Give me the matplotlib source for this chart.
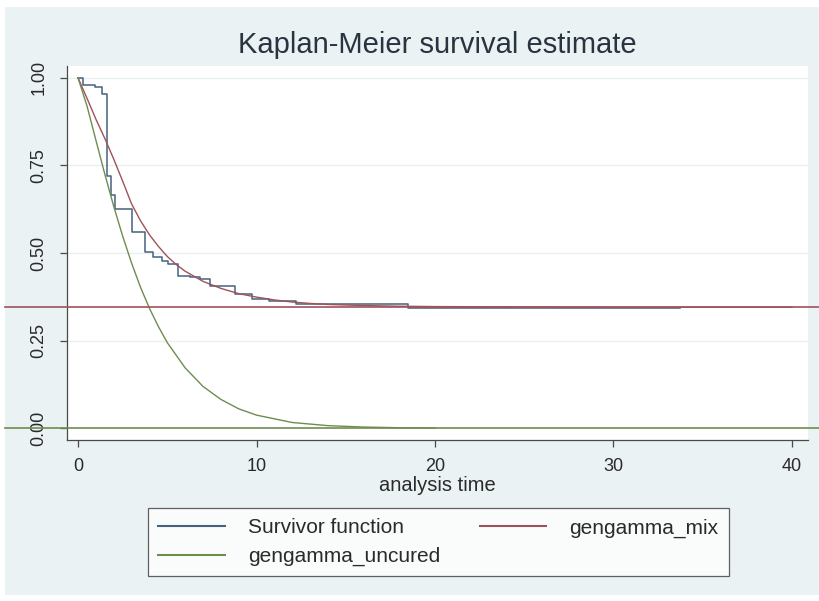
import matplotlib
matplotlib.use("Agg")
import matplotlib.pyplot as plt
from matplotlib.lines import Line2D
from matplotlib.patches import Rectangle
from matplotlib.transforms import blended_transform_factory

plt.rcParams['font.family'] = ['Liberation Sans', 'DejaVu Sans']

# Kaplan-Meier estimate: drop times and survival after each drop
km_times = [0.0, 0.28, 0.95, 1.34, 1.62, 1.85, 2.07, 3.02, 3.74, 4.19, 4.69,
            5.03, 5.59, 6.26, 6.82, 7.40, 8.77, 9.72, 10.7, 12.2, 18.5]
km_surv = [1.0, 0.980, 0.974, 0.954, 0.720, 0.665, 0.626, 0.560, 0.503, 0.489, 0.477,
           0.468, 0.434, 0.431, 0.425, 0.405, 0.382, 0.368, 0.362, 0.355, 0.342]
km_end = 33.7

# Fitted mixture cure model (generalized gamma)
mix_times = [0, 0.5, 1, 1.5, 2, 2.5, 3, 3.5, 4, 4.5, 5, 5.5, 6, 7, 8, 9, 10,
             11, 12, 13, 14, 16, 18, 20, 25, 30, 40]
mix_surv = [1.0, 0.942, 0.882, 0.827, 0.768, 0.705, 0.640, 0.592, 0.552, 0.519,
            0.490, 0.467, 0.448, 0.419, 0.399, 0.384, 0.374, 0.366, 0.360, 0.356,
            0.353, 0.350, 0.348, 0.347, 0.346, 0.345, 0.345]

# Survival of the uncured fraction
unc_times = [0, 0.5, 1, 1.5, 2, 2.5, 3, 3.5, 4, 4.5, 5, 6, 7, 8, 9, 10,
             12, 14, 16, 18, 20]
unc_surv = [1.0, 0.920, 0.822, 0.725, 0.633, 0.548, 0.471, 0.402, 0.342, 0.290,
            0.244, 0.172, 0.119, 0.082, 0.055, 0.037, 0.016, 0.007, 0.003,
            0.001, 0.0004]

cure_fraction = 0.345
uncured_floor = 0.0

y_ticks = [0.0, 0.25, 0.5, 0.75, 1.0]
y_ticklabels = ["0.00", "0.25", "0.50", "0.75", "1.00"]
x_ticks = [0, 10, 20, 30, 40]

c_km = "#45627f"
c_mix = "#a0525a"
c_unc = "#6f8c4f"
bg = "#eaf2f3"
axis_col = "#4a4a4a"

W, H = 819, 601
fig = plt.figure(figsize=(W / 100, H / 100), dpi=100, facecolor="white")

# graph region background
fig.patches.append(Rectangle((5 / W, 6 / H), 1 - 5 / W, (595 - 7) / H,
                             transform=fig.transFigure, facecolor=bg,
                             edgecolor="none", zorder=-10))

ax = fig.add_axes([67 / W, (H - 440) / H, (808 - 67) / W, (440 - 66) / H])
ax.set_facecolor("white")

ax.set_xlim(-0.62, 40.9)
ax.set_ylim(-0.034, 1.034)

for y in y_ticks[1:]:
    ax.axhline(y, color="#e8f0f1", lw=1.0, zorder=0)

km_x = km_times + [km_end]
km_y = km_surv + [km_surv[-1]]
ax.step(km_x, km_y, where="post", color=c_km, lw=1.1, zorder=3)
ax.plot(mix_times, mix_surv, color=c_mix, lw=1.0, zorder=4)
ax.plot(unc_times, unc_surv, color=c_unc, lw=1.0, zorder=4)

# asymptote lines running across the whole graph
tr = blended_transform_factory(fig.transFigure, ax.transData)
fig.lines.append(Line2D([5 / W, 1], [cure_fraction, cure_fraction], transform=tr,
                        color=c_mix, lw=1.2, zorder=5))
fig.lines.append(Line2D([5 / W, 1], [uncured_floor, uncured_floor], transform=tr,
                        color=c_unc, lw=1.2, zorder=5))

for s in ["top", "right"]:
    ax.spines[s].set_visible(False)
for s in ["left", "bottom"]:
    ax.spines[s].set_color(axis_col)
    ax.spines[s].set_linewidth(0.9)

ax.set_yticks(y_ticks)
ax.set_yticklabels(y_ticklabels, rotation=90, va="center")
ax.set_xticks(x_ticks)
ax.tick_params(axis="both", direction="out", length=5, width=0.9, color=axis_col,
               labelsize=13, labelcolor="#2a2a2a")
ax.tick_params(axis="y", pad=9)
ax.tick_params(axis="x", pad=8)

ax.set_xlabel("analysis time", fontsize=14.5, color="#2a2a2a", labelpad=1)
fig.text(437.5 / W, (H - 45) / H, "Kaplan-Meier survival estimate", ha="center",
         va="center", fontsize=21, color="#2a3340")

handles = [Line2D([], [], color=c_km, lw=1.5),
           Line2D([], [], color=c_unc, lw=1.5),
           Line2D([], [], color=c_mix, lw=1.5)]
labels = ["Survivor function", "gengamma_uncured", "gengamma_mix"]
leg = fig.legend(handles, labels, ncol=2, loc="upper left",
                 bbox_to_anchor=(148 / W, (H - 508) / H),
                 fontsize=15, frameon=True, fancybox=False,
                 handlelength=3.2, handletextpad=1.1, columnspacing=1.9,
                 labelspacing=0.45, borderpad=0.5, borderaxespad=0)
leg.get_frame().set_edgecolor("#3a3a3a")
leg.get_frame().set_linewidth(0.9)
leg.get_frame().set_facecolor("white")
for t in leg.get_texts():
    t.set_color("#2a2a2a")

fig.savefig("out.png", dpi=100, facecolor="white")
